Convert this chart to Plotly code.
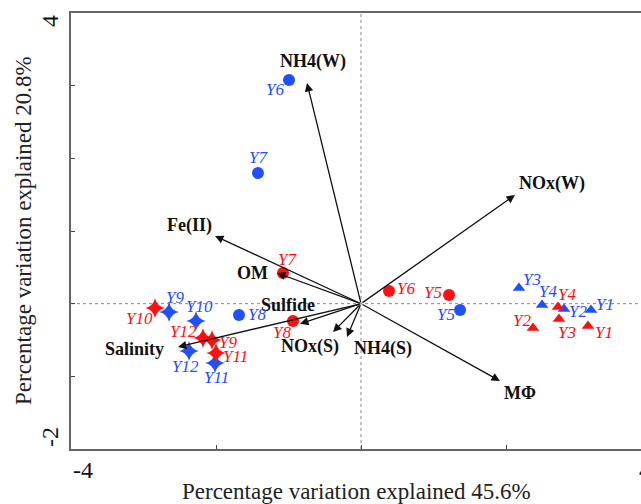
import plotly.graph_objects as go

# ---------------- data ----------------
circle_names = ["Y5", "Y6", "Y7", "Y8"]
blue_circle_x = [1.366, -0.993, -1.421, -1.683]
blue_circle_y = [-0.087, 3.078, 1.799, -0.155]
red_circle_x = [1.214, 0.386, -1.076, -0.938]
red_circle_y = [0.120, 0.175, 0.422, -0.237]

tri_names = ["Y1", "Y2", "Y3", "Y4"]
blue_tri_x = [3.172, 2.800, 2.179, 2.497]
blue_tri_y = [-0.087, -0.073, 0.216, -0.018]
red_tri_x = [3.131, 2.372, 2.731, 2.717]
red_tri_y = [-0.307, -0.334, -0.210, -0.045]

star_names = ["Y9", "Y10", "Y11", "Y12"]
blue_star_x = [-2.648, -2.276, -2.014, -2.372]
blue_star_y = [-0.114, -0.238, -0.816, -0.651]
red_star_x = [-2.055, -2.841, -2.000, -2.179]
red_star_y = [-0.500, -0.059, -0.678, -0.472]

vec_names = ["NH4(W)", "NOx(W)", "Fe(II)", "OM", "Sulfide", "Salinity", "NOx(S)", "NH4(S)", "MΦ"]
vec_x = [-0.745, 2.124, -2.014, -1.159, -0.841, -2.524, -0.386, -0.193, 1.917]
vec_y = [3.037, 1.496, 0.932, 0.422, -0.277, -0.596, -0.389, -0.458, -1.064]

x_title = "Percentage variation explained 45.6%"
y_title = "Percentage variation explained 20.8%"

# ---------------- styles / label offsets (pixels) ----------------
BLUE = "#1f4fff"
RED = "#ff1010"
SERIF = "Liberation Serif"

blue_circle_off = [(-14, -5), (-14, -9), (1, 15), (18, 0)]
red_circle_off = [(-16, 2), (17, 2), (5, 14), (-11, -12)]
blue_tri_off = [(14, 5), (14, -3), (13, 8), (6, 13)]
red_tri_off = [(16, -7), (-11, 7), (8, -14), (9, 12)]
blue_star_off = [(6, 14), (4, 14), (2, -15), (-4, -16)]
red_star_off = [(16, -2), (-16, -11), (19, -4), (-20, 6)]
vec_off = [(6, 21), (37, 11), (-25, 10), (-24, 0), (-12, 19), (-44, -2), (-23, -15), (36, -12), (20, -12)]

fig = go.Figure()

series = [
    (blue_circle_x, blue_circle_y, circle_names, "circle", 12, BLUE, blue_circle_off),
    (red_circle_x, red_circle_y, circle_names, "circle", 12, RED, red_circle_off),
    (blue_tri_x, blue_tri_y, tri_names, "triangle-up", 11, BLUE, blue_tri_off),
    (red_tri_x, red_tri_y, tri_names, "triangle-up", 11, RED, red_tri_off),
    (blue_star_x, blue_star_y, star_names, "star-diamond", 14, BLUE, blue_star_off),
    (red_star_x, red_star_y, star_names, "star-diamond", 14, RED, red_star_off),
]

annotations = []
shapes = [
    dict(type="line", xref="x", yref="y", x0=-4, x1=4, y0=0, y1=0,
         line=dict(color="#888888", width=1, dash="dot"), layer="below"),
    dict(type="line", xref="x", yref="y", x0=0, x1=0, y0=-2, y1=4,
         line=dict(color="#888888", width=1, dash="dot"), layer="below"),
]

# vectors (arrows)
for name, vx, vy, (dx, dy) in zip(vec_names, vec_x, vec_y, vec_off):
    annotations.append(dict(x=vx, y=vy, ax=0, ay=0, xref="x", yref="y", axref="x", ayref="y",
                            showarrow=True, arrowhead=2, arrowsize=1.3, arrowwidth=1.3,
                            arrowcolor="#111111", text=""))
    annotations.append(dict(x=vx, y=vy, xref="x", yref="y", text="<b>%s</b>" % name,
                            showarrow=False, xshift=dx, yshift=dy,
                            font=dict(family=SERIF, size=18, color="#111111")))

for xs, ys, names, sym, size, col, offs in series:
    fig.add_trace(go.Scatter(x=xs, y=ys, mode="markers",
                             marker=dict(symbol=sym, size=size, color=col, line=dict(width=0)),
                             showlegend=False, cliponaxis=False))
    for xv, yv, nm, (dx, dy) in zip(xs, ys, names, offs):
        annotations.append(dict(x=xv, y=yv, xref="x", yref="y", text="<i>%s</i>" % nm,
                                showarrow=False, xshift=dx, yshift=dy,
                                font=dict(family=SERIF, size=17, color=col)))

# tick labels and axis titles
tick_font = dict(family=SERIF, size=24, color="#111111")
annotations += [
    dict(x=-4, y=0, xref="x", yref="paper", text="-4", showarrow=False,
         xanchor="left", yanchor="top", yshift=-6, font=tick_font),
    dict(x=1, y=0, xref="paper", yref="paper", text="4", showarrow=False,
         xanchor="left", yanchor="top", xshift=-4, yshift=-6, font=tick_font),
    dict(x=0, y=1, xref="paper", yref="paper", text="4", showarrow=False, textangle=-90,
         xanchor="center", yanchor="top", xshift=-21, yshift=0, font=tick_font),
    dict(x=0, y=0, xref="paper", yref="paper", text="-2", showarrow=False, textangle=-90,
         xanchor="center", yanchor="bottom", xshift=-21, yshift=0, font=tick_font),
    dict(x=0.5, y=0, xref="paper", yref="paper", text=x_title, showarrow=False,
         xanchor="center", yanchor="middle", yshift=-42,
         font=dict(family=SERIF, size=23, color="#222222")),
    dict(x=0, y=0.5, xref="paper", yref="paper", text=y_title, showarrow=False, textangle=-90,
         xanchor="center", yanchor="middle", xshift=-48,
         font=dict(family=SERIF, size=23, color="#222222")),
]

fig.update_layout(
    width=641, height=504,
    margin=dict(l=71, r=0, t=13, b=55),
    paper_bgcolor="white", plot_bgcolor="white",
    font=dict(family=SERIF),
    annotations=annotations, shapes=shapes,
    xaxis=dict(range=[-4, -4 + 570 / 72.5], showgrid=False, zeroline=False,
               showline=True, linecolor="#666666", linewidth=2, mirror=True,
               ticks="inside", ticklen=4, tickcolor="#444444", tickvals=[-2, 0, 2],
               showticklabels=False),
    yaxis=dict(range=[-2, 4], showgrid=False, zeroline=False,
               showline=True, linecolor="#666666", linewidth=2,
               ticks="inside", ticklen=4, tickcolor="#444444", tickvals=[-1, 0, 1, 2, 3],
               showticklabels=False),
)

fig.write_html("out.html")
